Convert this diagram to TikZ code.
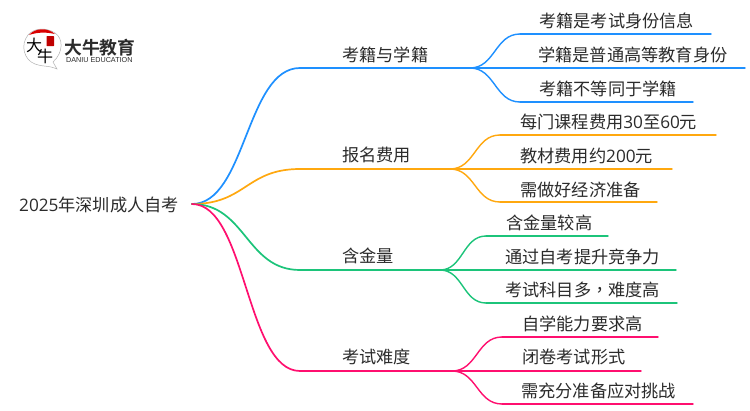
\documentclass[tikz,border=0pt]{standalone}
\usepackage{fontspec}
\setmainfont{Noto Sans CJK SC}
\newfontfamily\logofont{Noto Sans CJK SC Bold}
\newfontfamily\latinlogo{Liberation Sans}
\newfontfamily\digitfont{Open Sans}
\newfontfamily\commafont{Noto Sans CJK TC}
\newcommand{\dg}[1]{{\digitfont #1}}
\usetikzlibrary{calc}
\definecolor{cblue}{HTML}{1E90FF}
\definecolor{corange}{HTML}{FFA80F}
\definecolor{cgreen}{HTML}{1CC47A}
\definecolor{cpink}{HTML}{FF0F6F}
\definecolor{ctext}{HTML}{2B2B2B}
\tikzset{
  lbl/.style={anchor=west,inner sep=0pt,text=ctext,font=\fontsize{17.2}{17}\selectfont},
  main/.style={line width=1.7pt,line cap=round},
  sub/.style={line width=1.4pt,line cap=round}
}
\newcommand{\bcurve}[3]{\coordinate (m) at ($(#2)!0.5!(#3)$);\draw[#1] (#2) .. controls (m |- #2) and (m |- #3) .. (#3);}
\begin{document}
\begin{tikzpicture}[x=1pt,y=-1pt]
\useasboundingbox (0,0) rectangle (750,410);
\fill[white] (0,0) rectangle (750,410);
% root
\node[lbl] (root) at (19,205) {\dg{2025}年深圳成人自考};
\coordinate (o) at (192,204);
% junctions
\coordinate (a) at (300,68);  \coordinate (ae) at (470,68);
\coordinate (b) at (300,169); \coordinate (be) at (450,169);
\coordinate (c) at (300,270); \coordinate (ce) at (440,270);
\coordinate (d) at (300,371); \coordinate (de) at (452,371);
% branch labels
\node[lbl] (la) at (342,55) {考籍与学籍};
\node[lbl] (lb) at (342,155) {报名费用};
\node[lbl] (lc) at (342,256) {含金量};
\node[lbl] (ld) at (342,357) {考试难度};
% leaves
\node[lbl] (a1) at (539,21) {考籍是考试身份信息};
\node[lbl] (a2) at (538,55) {学籍是普通高等教育身份};
\node[lbl] (a3) at (539,89) {考籍不等同于学籍};
\node[lbl] (b1) at (520,122) {每门课程费用\dg{30}至\dg{60}元};
\node[lbl] (b2) at (520,156) {教材费用约\dg{200}元};
\node[lbl] (b3) at (520,190) {需做好经济准备};
\node[lbl] (c1) at (506,223) {含金量较高};
\node[lbl] (c2) at (505,257) {通过自考提升竞争力};
\node[lbl] (c3) at (505,290) {考试科目多{\commafont ，}难度高};
\node[lbl] (d1) at (522,324) {自学能力要求高};
\node[lbl] (d2) at (522,357) {闭卷考试形式};
\node[lbl] (d3) at (521,391) {需充分准备应对挑战};
% main connectors
\bcurve{main,cblue}{o}{a}
\bcurve{main,corange}{o}{b}
\bcurve{main,cgreen}{o}{c}
\bcurve{main,cpink}{o}{d}
\draw[main,cblue] (a) -- (ae);
\draw[main,corange] (b) -- (be);
\draw[main,cgreen] (c) -- (ce);
\draw[main,cpink] (d) -- (de);
% blue leaves
\coordinate (a1s) at (520,34); \coordinate (a1e) at (711,34);
\coordinate (a2e) at (745,68);
\coordinate (a3s) at (520,102); \coordinate (a3e) at (693,102);
\bcurve{sub,cblue}{ae}{a1s} \draw[sub,cblue] (a1s) -- (a1e);
\draw[sub,cblue] (ae) -- (a2e);
\bcurve{sub,cblue}{ae}{a3s} \draw[sub,cblue] (a3s) -- (a3e);
% orange leaves
\coordinate (b1s) at (500,135); \coordinate (b1e) at (716,135);
\coordinate (b2e) at (672,169);
\coordinate (b3s) at (500,202); \coordinate (b3e) at (657,202);
\bcurve{sub,corange}{be}{b1s} \draw[sub,corange] (b1s) -- (b1e);
\draw[sub,corange] (be) -- (b2e);
\bcurve{sub,corange}{be}{b3s} \draw[sub,corange] (b3s) -- (b3e);
% green leaves
\coordinate (c1s) at (486,236); \coordinate (c1e) at (608,236);
\coordinate (c2e) at (676,270);
\coordinate (c3s) at (486,303); \coordinate (c3e) at (677,303);
\bcurve{sub,cgreen}{ce}{c1s} \draw[sub,cgreen] (c1s) -- (c1e);
\draw[sub,cgreen] (ce) -- (c2e);
\bcurve{sub,cgreen}{ce}{c3s} \draw[sub,cgreen] (c3s) -- (c3e);
% pink leaves
\coordinate (d1s) at (502,337); \coordinate (d1e) at (658,337);
\coordinate (d2e) at (641,371);
\coordinate (d3s) at (502,404); \coordinate (d3e) at (693,404);
\bcurve{sub,cpink}{de}{d1s} \draw[sub,cpink] (d1s) -- (d1e);
\draw[sub,cpink] (de) -- (d2e);
\bcurve{sub,cpink}{de}{d3s} \draw[sub,cpink] (d3s) -- (d3e);
% logo
\draw[line width=0.5pt,gray!60] (53,62) .. controls (64,52) and (63,38) .. (55,33) .. controls (46,27) and (34,28) .. (28,35) .. controls (20,45) and (24,60) .. (35,64) .. controls (42,67) and (48,65) .. (57,69) -- (53,62);
\fill[red!85!black] (29,35) .. controls (35,28) and (47,27) .. (55,34) .. controls (46,32) and (38,32) .. (29,35) -- cycle;
\fill[red!75!black,rounded corners=0.5pt] (46.5,36) rectangle (54,46);
\node[inner sep=0pt,text=black,font=\fontsize{16}{16}\selectfont] (lg1) at (34,45) {大};
\node[inner sep=0pt,text=black,font=\fontsize{16}{16}\selectfont] (lg2) at (45,56) {牛};
\node[inner sep=0pt,anchor=west,text=ctext,font=\logofont\fontsize{17.8}{18}\selectfont] (lg3) at (64,48) {大牛教育};
\node[inner sep=0pt,anchor=west,text=ctext,font=\latinlogo\fontsize{7.2}{7}\selectfont] (lg4) at (66,60.5) {DANIU EDUCATION};
\end{tikzpicture}
\end{document}
